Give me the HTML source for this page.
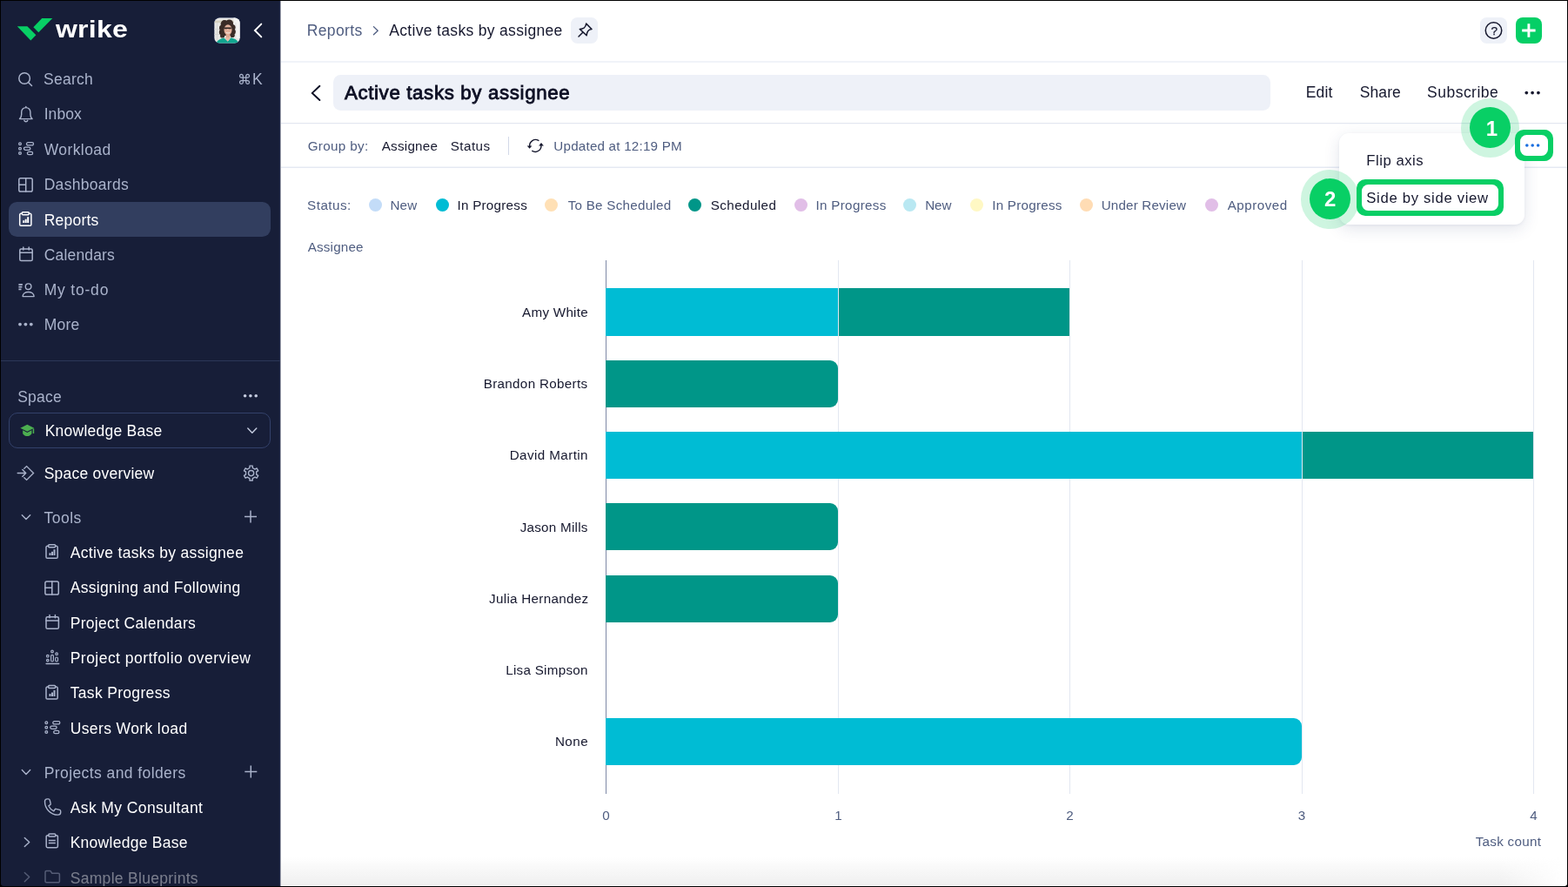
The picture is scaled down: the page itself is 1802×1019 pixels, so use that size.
<!DOCTYPE html>
<html lang="en">
<head>
<meta charset="utf-8">
<title>Active tasks by assignee - Wrike</title>
<style>
html,body{margin:0;padding:0;}
body{width:1802px;height:1019px;overflow:hidden;background:#000;font-family:"Liberation Sans",Arial,sans-serif;}
#app{position:absolute;left:0;top:0;width:1802px;height:1019px;overflow:hidden;background:#000;}
.t{position:absolute;white-space:pre;line-height:1;font-weight:400;}
.b{position:absolute;}
svg.ic{position:absolute;left:0;top:0;width:1802px;height:1019px;overflow:visible;pointer-events:none;}
.dot{top:228.1px;width:15.2px;height:15.2px;border-radius:50%;}
.bar{height:54.4px;}
.bar.r{border-radius:0 9px 9px 0;}
.grid{top:299px;width:1px;height:612.5px;background:#e3e7f1;}

</style>
</head>
<body>
<div id="app">
<div class="b" id="sidebar" style="left:1px;top:1px;width:321px;height:1017px;background:#171e38;border-bottom-left-radius:3px;"></div>
<div class="b" style="left:321px;top:1px;width:1px;height:1017px;background:#222a49;"></div>
<div class="b" id="main" style="left:322px;top:1px;width:1479px;height:1017px;background:#fff;border-bottom-right-radius:3px;"></div>
<div class="b" style="left:322px;top:1px;width:1px;height:1017px;background:#a2a5b0;"></div>
<div class="b" style="left:323px;top:985px;width:1478px;height:32px;background:linear-gradient(to bottom,rgba(240,240,240,0) 0%,rgba(240,240,240,0.35) 30%,#efefef 100%);-webkit-mask-image:linear-gradient(to right,#000 0,#000 1400px,transparent 1476px);mask-image:linear-gradient(to right,#000 0,#000 1400px,transparent 1476px);"></div>
<!-- sidebar blocks -->
<div class="b" style="left:10px;top:232px;width:301px;height:40px;border-radius:9.5px;background:#323e5f;"></div>
<div class="b" style="left:1px;top:413.5px;width:321px;height:1px;background:#2c3758;"></div>
<div class="b" style="left:10px;top:474.2px;width:299px;height:38.6px;border:1px solid #33416a;border-radius:10px;"></div>
<!-- header -->
<div class="b" style="left:323px;top:70px;width:1478px;height:2px;background:#f0f3f9;"></div>
<div class="b" style="left:323px;top:141px;width:1478px;height:1px;background:#e3e7f0;"></div>
<div class="b" style="left:323px;top:142px;width:1478px;height:1px;background:#f8f9fc;"></div>
<div class="b" style="left:323px;top:191px;width:1478px;height:1px;background:#f3f5f9;"></div>
<div class="b" style="left:323px;top:192px;width:1478px;height:1px;background:#e5e9f2;"></div>
<div class="b" style="left:656.2px;top:19.9px;width:30.5px;height:30.2px;border-radius:7.5px;background:#eef1f8;"></div>
<div class="b" style="left:1701.4px;top:20px;width:30.2px;height:30px;border-radius:7.5px;background:#eef1f8;"></div>
<div class="b" style="left:1741.9px;top:20px;width:30px;height:30px;border-radius:8px;background:#05cf66;"></div>
<div class="b" style="left:383px;top:85.8px;width:1077px;height:40.8px;border-radius:8.5px;background:#eef1f8;"></div>
<div class="b" style="left:584px;top:157.3px;width:1px;height:20.5px;background:#d3d9e8;"></div>
<!-- legend dots -->
<div class="b dot" style="left:423.9px;background:#c3dcf8;"></div>
<div class="b dot" style="left:500.5px;background:#00bcd4;"></div>
<div class="b dot" style="left:626px;background:#ffe0b5;"></div>
<div class="b dot" style="left:791.2px;background:#009688;"></div>
<div class="b dot" style="left:912.6px;background:#e1bee7;"></div>
<div class="b dot" style="left:1037.9px;background:#b9e8f2;"></div>
<div class="b dot" style="left:1115px;background:#fff8c4;"></div>
<div class="b dot" style="left:1241px;background:#ffdcb4;"></div>
<div class="b dot" style="left:1385px;background:#e1bee7;"></div>
<!-- chart -->
<div class="b" style="left:696px;top:299px;width:1px;height:612.5px;background:#7e88a6;"></div>
<div class="b grid" style="left:963px;"></div>
<div class="b grid" style="left:1229px;"></div>
<div class="b grid" style="left:1496px;"></div>
<div class="b grid" style="left:1762px;"></div>
<div class="b bar" style="left:696px;top:330.9px;height:54.9px;width:267px;background:#00bcd4;"></div>
<div class="b bar" style="left:964px;top:330.9px;height:54.9px;width:265px;background:#009688;"></div>
<div class="b bar r" style="left:696px;top:413.9px;height:54.1px;width:266.8px;background:#009688;"></div>
<div class="b bar" style="left:696px;top:495.9px;height:54.0px;width:800px;background:#00bcd4;"></div>
<div class="b bar" style="left:1497px;top:495.9px;height:54.0px;width:265px;background:#009688;"></div>
<div class="b bar r" style="left:696px;top:578.3px;height:53.6px;width:266.8px;background:#009688;"></div>
<div class="b bar r" style="left:696px;top:660.5px;height:54.3px;width:266.8px;background:#009688;"></div>
<div class="b bar r" style="left:696px;top:825.3px;height:54.2px;width:800px;background:#00bcd4;"></div>
<!-- popup -->
<div class="b" style="left:1539.2px;top:152.6px;width:213px;height:105.4px;border-radius:11px;background:#fff;box-shadow:0 5px 18px rgba(40,52,110,0.13),0 1px 3px rgba(40,52,110,0.06);"></div>
<div class="b" style="left:1679px;top:113.2px;width:67.4px;height:67.4px;border-radius:50%;background:rgba(8,207,101,0.2);"></div>
<div class="b" style="left:1689.4px;top:123.2px;width:46.8px;height:46.8px;border-radius:50%;background:#08cf65;"></div>
<div class="b" style="left:1741px;top:149.4px;width:44.2px;height:35.6px;border-radius:10px;background:#08cf65;"></div>
<div class="b" style="left:1746.9px;top:155.2px;width:32.4px;height:24px;border-radius:7.5px;background:#fff;"></div>
<div class="b" style="left:1559px;top:206.2px;width:169.2px;height:41.8px;border-radius:10px;background:#08cf65;"></div>
<div class="b" style="left:1564.9px;top:212px;width:157.4px;height:30.2px;border-radius:7.5px;background:#fff;"></div>
<div class="b" style="left:1495px;top:195.4px;width:67.4px;height:67.4px;border-radius:50%;background:rgba(8,207,101,0.2);"></div>
<div class="b" style="left:1505.4px;top:205.4px;width:46.8px;height:46.8px;border-radius:50%;background:#08cf65;"></div>

<svg class="ic" viewBox="0 0 1802 1019" fill="none" stroke-linecap="round" stroke-linejoin="round">
<g fill="#08cf65" stroke="none"><path d="M19.8 30.2H31.4L41.4 40.2L35.3 46.5Z"/><path d="M48.2 21.1H60.3L44.3 37.2L38.4 31.3Z"/></g>
<defs><clipPath id="av"><rect x="246.4" y="20.4" width="29.2" height="29.2" rx="6"/></clipPath></defs>
<rect x="246" y="20" width="30" height="30" rx="6.5" fill="#2b3a63" stroke="none"/>
<g clip-path="url(#av)" stroke="none"><rect x="246" y="20" width="30" height="30" fill="#e9e8e4"/><rect x="246" y="23.6" width="30" height="2.6" fill="#d6d0c0"/><rect x="249" y="26.2" width="0.8" height="20" fill="#cfcfcf"/><rect x="246" y="33" width="10" height="0.8" fill="#d4d4d4"/><rect x="246" y="39" width="10" height="0.8" fill="#d4d4d4"/><rect x="268.5" y="20" width="7.5" height="24" fill="#f4f4f2"/><rect x="270.5" y="26" width="0.8" height="20" fill="#d8d8d8"/><g fill="#3a2c27"><circle cx="258" cy="27.5" r="4.4"/><circle cx="263.5" cy="27" r="4.6"/><circle cx="255.6" cy="32" r="3.6"/><circle cx="267" cy="31.5" r="3.6"/><circle cx="255" cy="37" r="3.2"/><circle cx="267.6" cy="36.5" r="3.2"/><circle cx="255.6" cy="41" r="2.6"/><circle cx="267.2" cy="40.5" r="2.6"/><rect x="255" y="27" width="12.5" height="14"/></g><ellipse cx="262" cy="34.3" rx="4.5" ry="6" fill="#e2b09b"/><rect x="259.6" y="39" width="4.8" height="6" fill="#dca892"/><path d="M248.5 50C249 46.5 253.5 44.6 257.4 43.4L261.8 47.6L265.6 43.2C269.4 44.4 273.6 46 274.6 50Z" fill="#12a690"/><path d="M258.8 43.4L261.8 47.8L264.6 43.3C262.6 42.6 260.6 42.6 258.8 43.4Z" fill="#e6b8a4"/><path d="M257.8 32.4H260.9M262.6 32.4H265.8M260.9 32.3H262.6" stroke="#2b2220" stroke-width="1.6" fill="none" stroke-linecap="butt"/><path d="M260.2 37.6Q262 38.9 263.9 37.6" stroke="#f7efec" stroke-width="0.9" fill="none"/></g>
<path d="M300.30 27.60L292.90 35.00L300.30 42.40" stroke="#ffffff" stroke-width="1.9" stroke-linejoin="miter"/>
<g stroke="#aab3cb" stroke-width="1.5"><circle cx="28.10" cy="90.00" r="6.3"/><path d="M32.70 94.70L36.50 98.50"/></g>
<g stroke="#aab3cb" stroke-width="1.4" transform="translate(29.80 131.00)"><path d="M0 -8.6V-7.4"/><path d="M-7.3 5.6C-5.6 4.2 -5.1 2.6 -5.1 0.6V-2.3A5.1 5.1 0 0 1 5.1 -2.3V0.6C5.1 2.6 5.6 4.2 7.3 5.6Z"/><path d="M-2 7.3A2.1 2.1 0 0 0 2 7.3"/></g>
<g stroke="#aab3cb" stroke-width="1.3" transform="translate(29.30 170.70)"><circle cx="-6.3" cy="-5.4" r="1.35"/><circle cx="-6.3" cy="0" r="1.35"/><circle cx="-6.3" cy="5.3" r="1.35"/><rect x="1.2" y="-7" width="8" height="3.2" rx="1.6"/><rect x="-1.8" y="-1.6" width="7.3" height="3.2" rx="1.6"/><rect x="2.1" y="3.7" width="6.2" height="3.2" rx="1.6"/></g>
<g stroke="#aab3cb" stroke-width="1.5" transform="translate(29.50 212.40)"><rect x="-7.7" y="-7.6" width="15.4" height="15.2" rx="1.8"/><path d="M0.2 -7.6V7.6M-7.7 -0.2H0.2"/></g>
<g stroke="#ffffff" stroke-width="1.5" transform="translate(29.30 251.60)"><path d="M-4 -6.3H-5.2A1.4 1.4 0 0 0 -6.6 -4.9V6.3A1.4 1.4 0 0 0 -5.2 7.7H5.2A1.4 1.4 0 0 0 6.6 6.3V-4.9A1.4 1.4 0 0 0 5.2 -6.3H4"/><rect x="-4" y="-7.9" width="8" height="3" rx="1"/><path d="M-2.1 1.7V4.5M0.4 0.1V4.5M2.9 -2.3V4.5" stroke-width="2" stroke-linecap="butt"/></g>
<g stroke="#aab3cb" stroke-width="1.5" transform="translate(30.00 292.20)"><rect x="-7.2" y="-6.2" width="14.4" height="13.6" rx="1.6"/><path d="M-7.2 -2H7.2M-3.2 -8.3V-5.2M3.2 -8.3V-5.2"/></g>
<g stroke="#aab3cb" stroke-width="1.4" transform="translate(30.00 333.20)"><path d="M-8.6 -6.3H-4.1M-8.6 -3.6H-4.6M-8.6 -0.8H-5.5" stroke-linecap="butt" stroke-width="1.6"/><circle cx="2.6" cy="-4" r="3.3"/><path d="M-3.9 7.4C-3.9 3.9 -0.9 2.3 2.6 2.3C6.1 2.3 9.1 3.9 9.1 7.4Z"/></g>
<g fill="#aab3cb" stroke="none"><circle cx="23.00" cy="372.60" r="1.9"/><circle cx="29.40" cy="372.60" r="1.9"/><circle cx="35.80" cy="372.60" r="1.9"/></g>
<g fill="#c6cde0" stroke="none"><circle cx="281.60" cy="454.70" r="1.8"/><circle cx="287.90" cy="454.70" r="1.8"/><circle cx="294.20" cy="454.70" r="1.8"/></g>
<g fill="#4caf50" stroke="none"><path d="M31.3 487.8L39.2 491.8L31.3 495.8L23.4 491.8Z"/><path d="M26.2 494.3V498.2C27.6 500.2 29.4 501.1 31.3 501.1C33.2 501.1 35 500.2 36.4 498.2V494.3L31.3 496.9Z"/><rect x="37.7" y="492.4" width="1.5" height="5.6"/></g>
<path d="M284.80 492.10L289.80 497.30L294.80 492.10" stroke="#c6cde0" stroke-width="1.4"/>
<g stroke="#aab3cb" stroke-width="1.4" transform="translate(29.70 543.50)" stroke-linejoin="miter"><path d="M-9.5 0H0M-3.9 -3.9L0 0L-3.9 3.9"/><path d="M-1.9 -5.3L0.9 -7.9L8.8 0L0.9 7.9L-1.9 5.3"/></g>
<g stroke="#aab3cb" stroke-width="1.4" transform="translate(288.60 543.60)"><path d="M-1.63 -6.09L-1.64 -8.44L1.64 -8.44L1.63 -6.09L4.45 -4.45L6.49 -5.64L8.13 -2.80L6.09 -1.63L6.09 1.63L8.13 2.80L6.49 5.64L4.45 4.45L1.63 6.09L1.64 8.44L-1.64 8.44L-1.63 6.09L-4.45 4.45L-6.49 5.64L-8.13 2.80L-6.09 1.63L-6.09 -1.63L-8.13 -2.80L-6.49 -5.64L-4.45 -4.45Z" stroke-linejoin="round"/><circle r="3.1"/></g>
<path d="M25.30 591.65L30.00 596.55L34.70 591.65" stroke="#aab3cb" stroke-width="1.4"/>
<path d="M281.00 593.50H295.00M288.00 586.50V600.50" stroke="#aab3cb" stroke-width="1.5" stroke-linecap="butt"/>
<g stroke="#aab3cb" stroke-width="1.5" transform="translate(59.60 633.60)"><path d="M-4 -6.3H-5.2A1.4 1.4 0 0 0 -6.6 -4.9V6.3A1.4 1.4 0 0 0 -5.2 7.7H5.2A1.4 1.4 0 0 0 6.6 6.3V-4.9A1.4 1.4 0 0 0 5.2 -6.3H4"/><rect x="-4" y="-7.9" width="8" height="3" rx="1"/><path d="M-2.1 1.7V4.5M0.4 0.1V4.5M2.9 -2.3V4.5" stroke-width="2" stroke-linecap="butt"/></g>
<g stroke="#aab3cb" stroke-width="1.5" transform="translate(59.60 675.50)"><rect x="-7.7" y="-7.6" width="15.4" height="15.2" rx="1.8"/><path d="M0.2 -7.6V7.6M-7.7 -0.2H0.2"/></g>
<g stroke="#aab3cb" stroke-width="1.5" transform="translate(60.20 714.90)"><rect x="-7.2" y="-6.2" width="14.4" height="13.6" rx="1.6"/><path d="M-7.2 -2H7.2M-3.2 -8.3V-5.2M3.2 -8.3V-5.2"/></g>
<g stroke="#aab3cb" stroke-width="1.2" transform="translate(60.40 754.60)"><path d="M-7.3 7.9H7.3" stroke-width="1.4"/><circle cx="-5.6" cy="-0.9" r="1.3"/><circle cx="-5.6" cy="4" r="1.3"/><circle cx="-0.4" cy="-6.1" r="1.3"/><rect x="-1.8" y="-2.2" width="2.8" height="7.6" rx="1.4"/><circle cx="4.7" cy="-3.4" r="1.3"/><rect x="3.3" y="0.4" width="2.8" height="5" rx="1.4"/></g>
<g stroke="#aab3cb" stroke-width="1.5" transform="translate(59.60 795.40)"><path d="M-4 -6.3H-5.2A1.4 1.4 0 0 0 -6.6 -4.9V6.3A1.4 1.4 0 0 0 -5.2 7.7H5.2A1.4 1.4 0 0 0 6.6 6.3V-4.9A1.4 1.4 0 0 0 5.2 -6.3H4"/><rect x="-4" y="-7.9" width="8" height="3" rx="1"/><path d="M-2.1 1.7V4.5M0.4 0.1V4.5M2.9 -2.3V4.5" stroke-width="2" stroke-linecap="butt"/></g>
<g stroke="#aab3cb" stroke-width="1.3" transform="translate(59.60 835.70)"><circle cx="-6.3" cy="-5.4" r="1.35"/><circle cx="-6.3" cy="0" r="1.35"/><circle cx="-6.3" cy="5.3" r="1.35"/><rect x="1.2" y="-7" width="8" height="3.2" rx="1.6"/><rect x="-1.8" y="-1.6" width="7.3" height="3.2" rx="1.6"/><rect x="2.1" y="3.7" width="6.2" height="3.2" rx="1.6"/></g>
<path d="M25.30 884.55L30.00 889.45L34.70 884.55" stroke="#aab3cb" stroke-width="1.4"/>
<path d="M281.30 886.60H295.30M288.30 879.60V893.60" stroke="#aab3cb" stroke-width="1.5" stroke-linecap="butt"/>
<g stroke="#aab3cb" stroke-width="1.4" transform="translate(60.10 927.40)"><path d="M-8.6 -6.6C-8.6 -8.2 -7.4 -9.5 -5.8 -9.5H-4.4C-3.7 -9.5 -3.1 -9 -2.9 -8.3L-1.9 -4.4C-1.7 -3.8 -2 -3.1 -2.5 -2.8L-4.3 -1.6C-3.1 1.1 -1 3.2 1.7 4.4L2.9 2.6C3.2 2.1 3.9 1.8 4.5 2L8.4 3C9.1 3.2 9.6 3.8 9.6 4.5V5.9C9.6 7.5 8.3 8.7 6.7 8.7C-1.8 8.7 -8.6 1.9 -8.6 -6.6Z"/></g>
<path d="M28.30 962.40L33.70 967.50L28.30 972.60" stroke="#aab3cb" stroke-width="1.4"/>
<g stroke="#aab3cb" stroke-width="1.5" transform="translate(59.80 966.00)"><path d="M-4 -6.3H-5.2A1.4 1.4 0 0 0 -6.6 -4.9V6.3A1.4 1.4 0 0 0 -5.2 7.7H5.2A1.4 1.4 0 0 0 6.6 6.3V-4.9A1.4 1.4 0 0 0 5.2 -6.3H4"/><rect x="-4" y="-7.9" width="8" height="3" rx="1"/><path d="M-4 -0.6H4M-4 2.4H4" stroke-linecap="butt"/></g>
<g opacity="0.42">
<path d="M28.30 1002.50L33.70 1007.60L28.30 1012.70" stroke="#aab3cb" stroke-width="1.4"/>
<g stroke="#aab3cb" stroke-width="1.5" transform="translate(60.20 1007.20)"><path d="M-8.2 -5.2A1.4 1.4 0 0 1 -6.8 -6.6H-2.2L-0.4 -4H6.8A1.4 1.4 0 0 1 8.2 -2.6V5.2A1.4 1.4 0 0 1 6.8 6.6H-6.8A1.4 1.4 0 0 1 -8.2 5.2Z"/></g>
</g>
<path d="M429.40 30.60L434.20 35.20L429.40 39.80" stroke="#4f5d80" stroke-width="1.3"/>
<g stroke="#16182e" stroke-width="1.5" stroke-linejoin="round"><path d="M673.7 27.1L680 33.5C678.2 33.6 676.6 34.4 675.6 35.9C674.7 37.2 674.3 38.9 674.1 40.8L666.3 33.4C668.2 33.3 669.8 33 671.1 32.1C672.6 31 673.5 29.3 673.7 27.1Z"/><path d="M669.5 37.5L665 42"/></g>
<g stroke="#16182e" stroke-width="1.5"><circle cx="1716.5" cy="35" r="9.25"/></g>
<path d="M1749.2 35H1764.6M1756.9 27.3V42.7" stroke="#fff" stroke-width="2.9" stroke-linecap="butt"/>
<path d="M367.40 98.80L358.80 106.90L367.40 115.00" stroke="#0d0f24" stroke-width="1.9" stroke-linejoin="miter"/>
<g fill="#16182e" stroke="none"><circle cx="1754.30" cy="106.60" r="1.85"/><circle cx="1761.10" cy="106.60" r="1.85"/><circle cx="1767.90" cy="106.60" r="1.85"/></g>
<g stroke="#16182e" stroke-width="1.4" transform="translate(615.3 167.4)"><path d="M-6.6 0.6A6.8 6.8 0 0 1 3.6 -6"/><path d="M6.6 -0.6A6.8 6.8 0 0 1 -3.6 6"/><path d="M-9.6 0L-6.7 3.4L-3.9 0Z" fill="#16182e" stroke="none"/><path d="M9.6 0L6.7 -3.4L3.9 0Z" fill="#16182e" stroke="none"/></g>
<g fill="#1a6fe0" stroke="none"><circle cx="1754.80" cy="167.00" r="1.8"/><circle cx="1761.20" cy="167.00" r="1.8"/><circle cx="1767.60" cy="167.00" r="1.8"/></g>
</svg>

<span class="t" style="left:64.30px;top:20.00px;font-size:27.6px;letter-spacing:0.200px;color:#ffffff;font-weight:700;transform:scaleX(1.1596);transform-origin:0 0;">wrike</span>
<span class="t" style="left:50.10px;top:83.00px;font-size:17.5px;letter-spacing:0.260px;color:#aab3cb;">Search</span>
<span class="t" style="left:273.00px;top:83.00px;font-size:16.4px;letter-spacing:0.000px;color:#aab3cb;">⌘</span>
<span class="t" style="left:290.00px;top:83.00px;font-size:17.5px;letter-spacing:0.000px;color:#aab3cb;">K</span>
<span class="t" style="left:50.70px;top:123.00px;font-size:17.5px;letter-spacing:0.050px;color:#aab3cb;">Inbox</span>
<span class="t" style="left:50.70px;top:164.00px;font-size:17.5px;letter-spacing:0.414px;color:#aab3cb;">Workload</span>
<span class="t" style="left:50.70px;top:204.00px;font-size:17.5px;letter-spacing:0.289px;color:#aab3cb;">Dashboards</span>
<span class="t" style="left:50.70px;top:245.00px;font-size:17.5px;letter-spacing:0.233px;color:#ffffff;">Reports</span>
<span class="t" style="left:50.70px;top:285.00px;font-size:17.5px;letter-spacing:0.175px;color:#aab3cb;">Calendars</span>
<span class="t" style="left:50.70px;top:325.00px;font-size:17.5px;letter-spacing:0.800px;color:#aab3cb;">My to-do</span>
<span class="t" style="left:50.70px;top:365.00px;font-size:17.5px;letter-spacing:0.200px;color:#aab3cb;">More</span>
<span class="t" style="left:20.20px;top:448.00px;font-size:17.5px;letter-spacing:0.225px;color:#aab3cb;">Space</span>
<span class="t" style="left:51.70px;top:487.00px;font-size:17.5px;letter-spacing:0.238px;color:#ffffff;">Knowledge Base</span>
<span class="t" style="left:50.70px;top:536.00px;font-size:17.5px;letter-spacing:0.223px;color:#ffffff;">Space overview</span>
<span class="t" style="left:50.50px;top:587.00px;font-size:17.5px;letter-spacing:0.500px;color:#aab3cb;">Tools</span>
<span class="t" style="left:80.70px;top:627.00px;font-size:17.5px;letter-spacing:0.330px;color:#ffffff;">Active tasks by assignee</span>
<span class="t" style="left:80.70px;top:667.00px;font-size:17.5px;letter-spacing:0.309px;color:#ffffff;">Assigning and Following</span>
<span class="t" style="left:80.70px;top:708.00px;font-size:17.5px;letter-spacing:0.312px;color:#ffffff;">Project Calendars</span>
<span class="t" style="left:80.70px;top:748.00px;font-size:17.5px;letter-spacing:0.472px;color:#ffffff;">Project portfolio overview</span>
<span class="t" style="left:80.70px;top:788.00px;font-size:17.5px;letter-spacing:0.325px;color:#ffffff;">Task Progress</span>
<span class="t" style="left:80.70px;top:829.00px;font-size:17.5px;letter-spacing:0.386px;color:#ffffff;">Users Work load</span>
<span class="t" style="left:50.70px;top:880.00px;font-size:17.5px;letter-spacing:0.416px;color:#aab3cb;">Projects and folders</span>
<span class="t" style="left:80.70px;top:920.00px;font-size:17.5px;letter-spacing:0.400px;color:#ffffff;">Ask My Consultant</span>
<span class="t" style="left:80.70px;top:960.00px;font-size:17.5px;letter-spacing:0.262px;color:#ffffff;">Knowledge Base</span>
<span class="t" style="left:80.70px;top:1001.00px;font-size:17.5px;letter-spacing:0.306px;color:#ffffff;opacity:0.42;">Sample Blueprints</span>
<span class="t" style="left:352.70px;top:27.00px;font-size:17.5px;letter-spacing:0.400px;color:#4f5d80;">Reports</span>
<span class="t" style="left:447.30px;top:27.00px;font-size:17.5px;letter-spacing:0.322px;color:#16182e;">Active tasks by assignee</span>
<span class="t" style="left:395.90px;top:96.00px;font-size:22.3px;letter-spacing:0.635px;color:#0d0f24;-webkit-text-stroke:0.85px #0d0f24;">Active tasks by assignee</span>
<span class="t" style="left:1500.70px;top:98.00px;font-size:17.5px;letter-spacing:0.200px;color:#16182e;">Edit</span>
<span class="t" style="left:1562.70px;top:98.00px;font-size:17.5px;letter-spacing:0.100px;color:#16182e;">Share</span>
<span class="t" style="left:1640.10px;top:98.00px;font-size:17.5px;letter-spacing:0.475px;color:#16182e;">Subscribe</span>
<span class="t" style="left:353.70px;top:160.00px;font-size:15.2px;letter-spacing:0.350px;color:#4f5d80;">Group by:</span>
<span class="t" style="left:438.70px;top:160.00px;font-size:15.2px;letter-spacing:0.257px;color:#16182e;">Assignee</span>
<span class="t" style="left:517.70px;top:160.00px;font-size:15.2px;letter-spacing:0.480px;color:#16182e;">Status</span>
<span class="t" style="left:636.30px;top:160.00px;font-size:15.2px;letter-spacing:0.211px;color:#4f5d80;">Updated at 12:19 PM</span>
<span class="t" style="left:353.10px;top:228.00px;font-size:15.2px;letter-spacing:0.467px;color:#4f5d80;">Status:</span>
<span class="t" style="left:448.50px;top:228.00px;font-size:15.2px;letter-spacing:0.150px;color:#4f5d80;">New</span>
<span class="t" style="left:525.50px;top:228.00px;font-size:15.2px;letter-spacing:0.260px;color:#16182e;">In Progress</span>
<span class="t" style="left:652.70px;top:228.00px;font-size:15.2px;letter-spacing:0.257px;color:#4f5d80;">To Be Scheduled</span>
<span class="t" style="left:816.70px;top:228.00px;font-size:15.2px;letter-spacing:0.425px;color:#16182e;">Scheduled</span>
<span class="t" style="left:937.50px;top:228.00px;font-size:15.2px;letter-spacing:0.310px;color:#4f5d80;">In Progress</span>
<span class="t" style="left:1063.20px;top:228.00px;font-size:15.2px;letter-spacing:-0.050px;color:#4f5d80;">New</span>
<span class="t" style="left:1140.20px;top:228.00px;font-size:15.2px;letter-spacing:0.260px;color:#4f5d80;">In Progress</span>
<span class="t" style="left:1265.70px;top:228.00px;font-size:15.2px;letter-spacing:0.173px;color:#4f5d80;">Under Review</span>
<span class="t" style="left:1410.70px;top:228.00px;font-size:15.2px;letter-spacing:0.486px;color:#4f5d80;">Approved</span>
<span class="t" style="left:353.70px;top:276.00px;font-size:15.2px;letter-spacing:0.200px;color:#4f5d80;">Assignee</span>
<span class="t" style="left:600.10px;top:351.00px;font-size:15.2px;letter-spacing:0.275px;color:#16182e;">Amy White</span>
<span class="t" style="left:555.70px;top:433.00px;font-size:15.2px;letter-spacing:0.329px;color:#16182e;">Brandon Roberts</span>
<span class="t" style="left:585.70px;top:515.00px;font-size:15.2px;letter-spacing:0.418px;color:#16182e;">David Martin</span>
<span class="t" style="left:597.70px;top:598.00px;font-size:15.2px;letter-spacing:0.260px;color:#16182e;">Jason Mills</span>
<span class="t" style="left:562.10px;top:680.00px;font-size:15.2px;letter-spacing:0.300px;color:#16182e;">Julia Hernandez</span>
<span class="t" style="left:581.20px;top:762.00px;font-size:15.2px;letter-spacing:0.282px;color:#16182e;">Lisa Simpson</span>
<span class="t" style="left:637.90px;top:844.00px;font-size:15.2px;letter-spacing:0.467px;color:#16182e;">None</span>
<span class="t" style="left:692.20px;top:929.00px;font-size:15.2px;letter-spacing:0.000px;color:#4f5d80;">0</span>
<span class="t" style="left:959.15px;top:929.00px;font-size:15.2px;letter-spacing:0.000px;color:#4f5d80;">1</span>
<span class="t" style="left:1225.20px;top:929.00px;font-size:15.2px;letter-spacing:0.000px;color:#4f5d80;">2</span>
<span class="t" style="left:1491.70px;top:929.00px;font-size:15.2px;letter-spacing:0.000px;color:#4f5d80;">3</span>
<span class="t" style="left:1758.30px;top:929.00px;font-size:15.2px;letter-spacing:0.000px;color:#4f5d80;">4</span>
<span class="t" style="left:1695.70px;top:959.00px;font-size:15.2px;letter-spacing:0.289px;color:#4f5d80;">Task count</span>
<span class="t" style="left:1570.30px;top:177.00px;font-size:16.7px;letter-spacing:0.525px;color:#16182e;">Flip axis</span>
<span class="t" style="left:1570.30px;top:220.00px;font-size:16.7px;letter-spacing:0.681px;color:#16182e;">Side by side view</span>
<span class="t" style="left:1707.70px;top:136.00px;font-size:24px;letter-spacing:0.000px;color:#ffffff;font-weight:700;">1</span>
<span class="t" style="left:1522.10px;top:217.00px;font-size:24px;letter-spacing:0.000px;color:#ffffff;font-weight:700;">2</span>
<span class="t" style="left:1713.60px;top:29.00px;font-size:13.6px;letter-spacing:0.000px;color:#16182e;-webkit-text-stroke:0.25px #16182e;">?</span>
<div class="b" style="left:0;top:1018px;width:1802px;height:1px;background:#000;"></div>
</div>
</body>
</html>
